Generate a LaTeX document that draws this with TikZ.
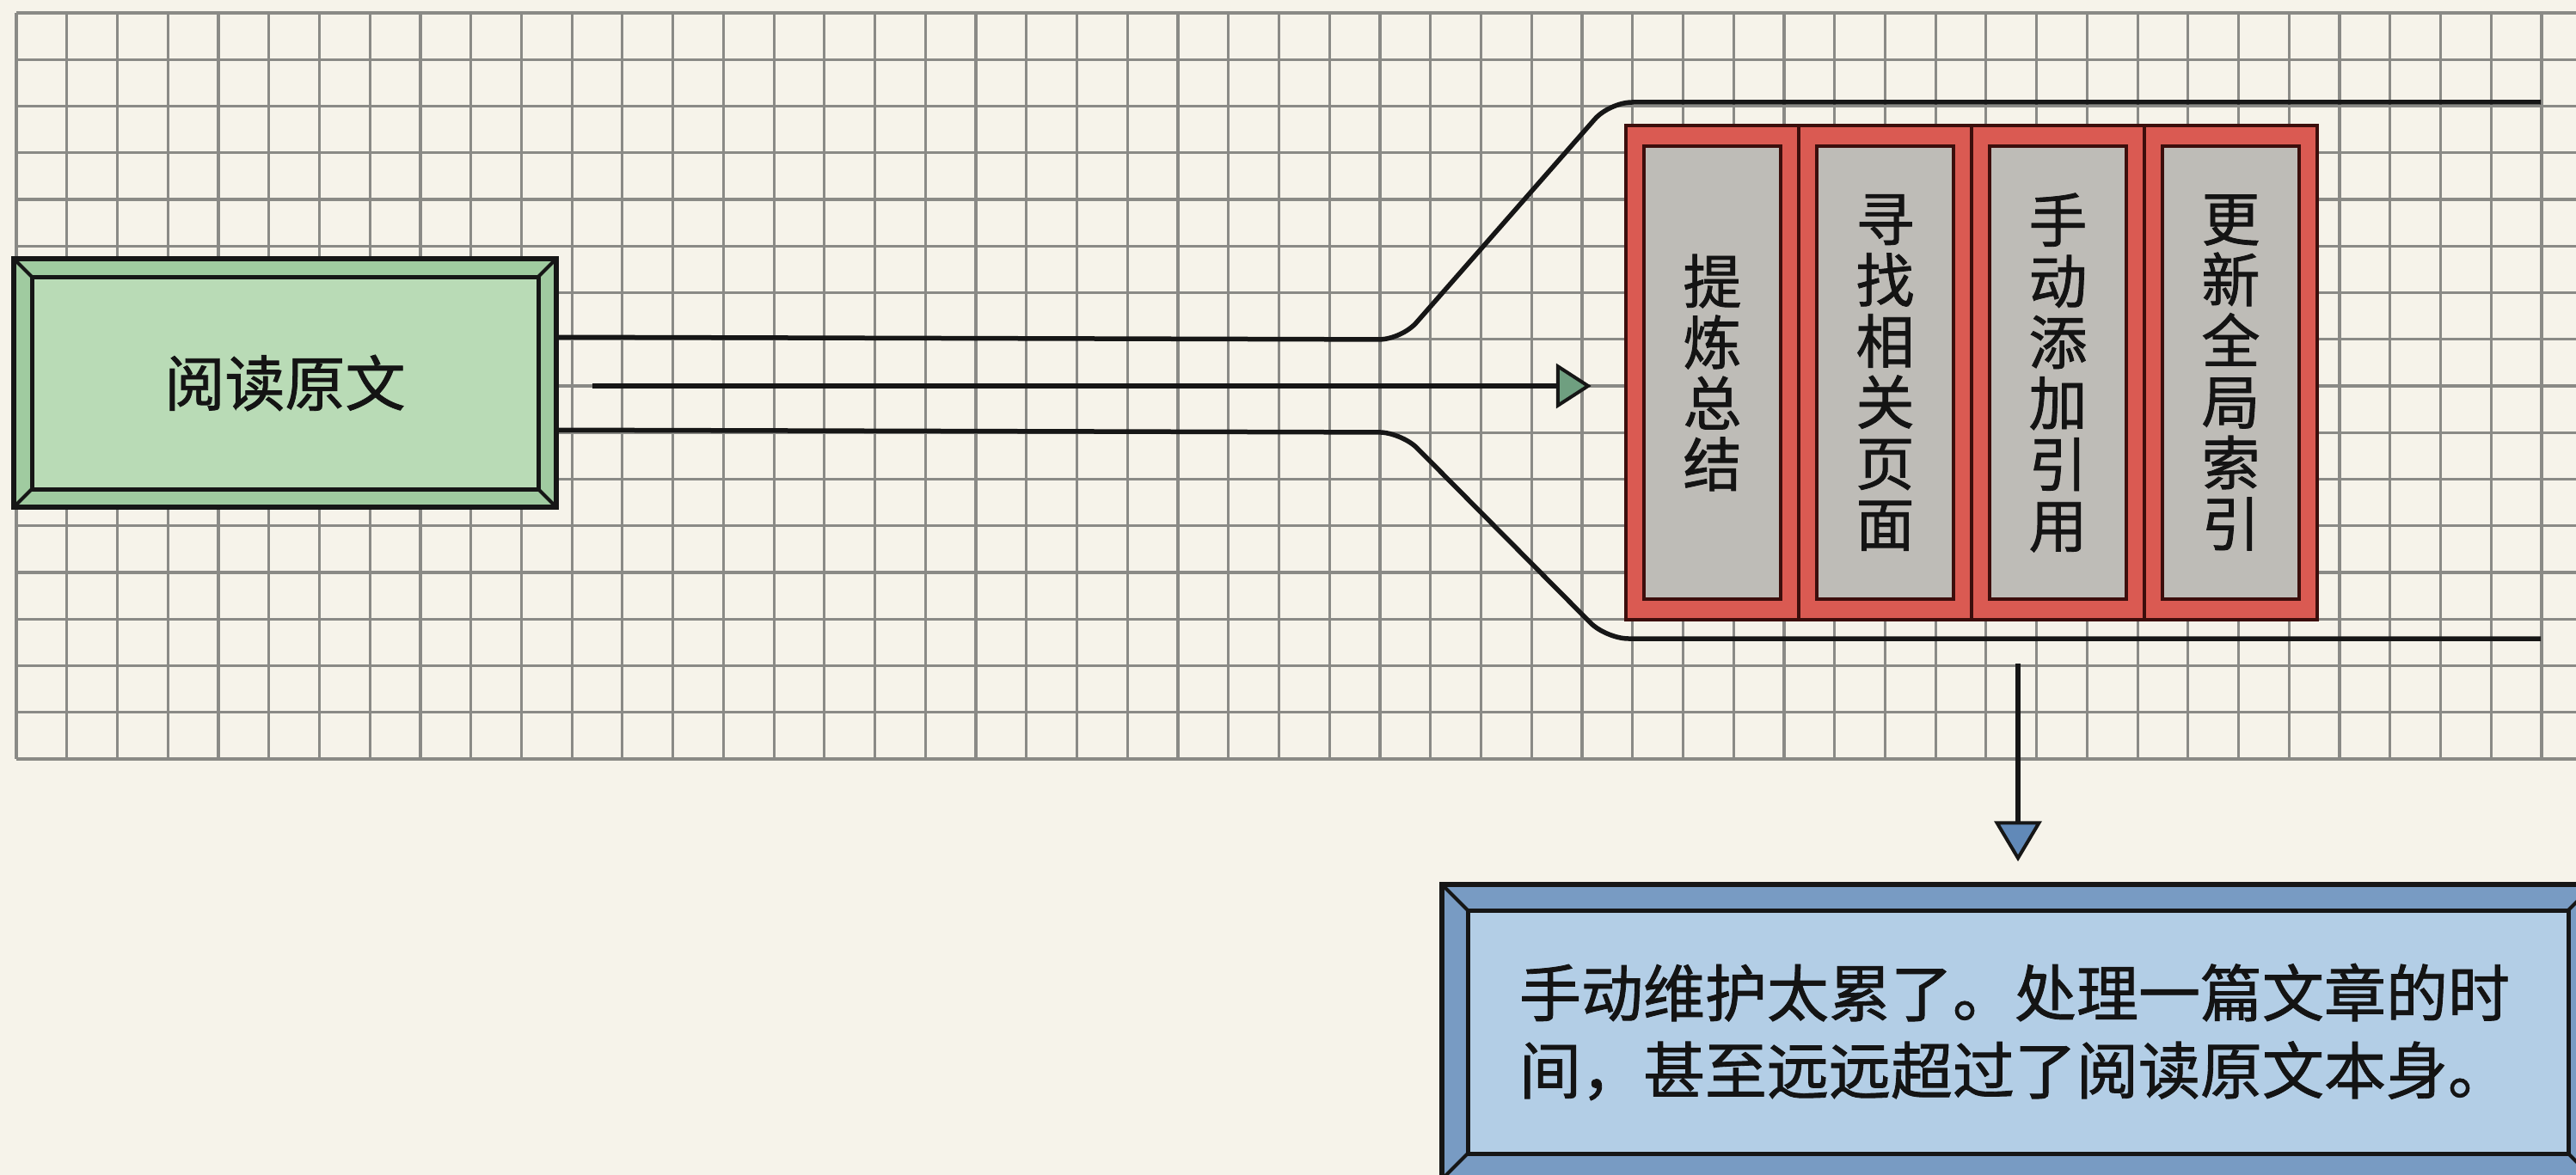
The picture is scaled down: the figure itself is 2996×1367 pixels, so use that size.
\documentclass[tikz,border=0pt]{standalone}
\usepackage{fontspec}
\newfontfamily\cjk[FakeBold=1.2]{Noto Sans CJK SC}
\usetikzlibrary{calc,arrows.meta}
\definecolor{paper}{HTML}{F6F3EA}
\definecolor{gridc}{HTML}{8A8A86}
\definecolor{edge}{HTML}{161616}
\definecolor{greenbev}{HTML}{A0CBA0}
\definecolor{greenin}{HTML}{B9DBB6}
\definecolor{bluebev}{HTML}{789BC3}
\definecolor{bluein}{HTML}{B3CEE6}
\definecolor{redc}{HTML}{DA5A52}
\definecolor{redline}{HTML}{3C0E0C}
\definecolor{grayin}{HTML}{BEBCB7}
\definecolor{arrgreen}{HTML}{6F9F80}
\definecolor{arrblue}{HTML}{6189B8}
\definecolor{ink}{HTML}{141414}
\tikzset{
  gridline/.style={gridc, line width=3.2pt},
  busline/.style={edge, line width=5.5pt, rounded corners=26pt},
  flowarrow/.style={edge, line width=5.5pt},
  bevelbox/.style n args={3}{rectangle, draw=edge, line width=5.5pt, fill=#1, inner sep=0pt,
    text=ink,
    path picture={
      \path (path picture bounding box.north west) coordinate (ppA)
            (path picture bounding box.south east) coordinate (ppB);
      \draw[fill=#2, draw=edge, line width=5pt] ($(ppA)+(#3,#3)$) rectangle ($(ppB)+(-#3,-#3)$);
      \draw[edge, line width=4pt] (ppA) -- ++(#3,#3);
      \draw[edge, line width=4pt] (ppB) -- ++(-#3,-#3);
      \draw[edge, line width=4pt] (ppA -| ppB) -- ++(-#3,#3);
      \draw[edge, line width=4pt] (ppA |- ppB) -- ++(#3,-#3);
    }},
  colbox/.style={rectangle, draw=redline, line width=4.5pt, fill=redc, inner sep=0pt,
    minimum width=201pt, minimum height=575pt, align=center, text=ink,
    font=\cjk\fontsize{68}{71}\selectfont,
    path picture={
      \path (path picture bounding box.north west) coordinate (ppA)
            (path picture bounding box.south east) coordinate (ppB);
      \draw[fill=grayin, draw=redline, line width=4.5pt] ($(ppA)+(21,24)$) rectangle ($(ppB)+(-21,-24)$);
    }},
}
\begin{document}
\begin{tikzpicture}[x=1pt,y=-1pt]
\useasboundingbox (0,0) rectangle (2996,1367);
\clip (0,0) rectangle (2996,1367);
\fill[paper] (0,0) rectangle (2996,1367);
% grid
\foreach \i in {0,...,50} \draw[gridline] ({19+58.74*\i},15) -- ({19+58.74*\i},883);
\foreach \j in {0,...,16} \draw[gridline] (19,{15+54.25*\j}) -- (3000,{15+54.25*\j});

% nodes
\node[bevelbox={greenbev}{greenin}{21}, minimum width=631pt, minimum height=289pt,
      font=\cjk\fontsize{70}{84}\selectfont] (read) at (331.5,445.5) {阅读原文};

\node[colbox] (c1) at (1991.5,433.5) {提\\炼\\总\\结};
\node[colbox] (c2) at (2192.5,433.5) {寻\\找\\相\\关\\页\\面};
\node[colbox] (c3) at (2393.5,433.5) {手\\动\\添\\加\\引\\用};
\node[colbox] (c4) at (2594.5,433.5) {更\\新\\全\\局\\索\\引};

\node[bevelbox={bluebev}{bluein}{30}, minimum width=1340pt, minimum height=343pt,
      text width=1160pt, align=left,
      font=\cjk\fontsize{72}{90}\selectfont] (warn) at (2347,1200.5)
      {手动维护太累了。处理一篇文章的时\\间，甚至远远超过了阅读原文本身。};

% bus lines
\coordinate (ua) at ($(read.north east)+(0,94)$);
\coordinate (ub) at (1630,395);
\coordinate (uc) at (1872,119);
\coordinate (ud) at (2955,119);
\coordinate (la) at ($(read.north east)+(0,202)$);
\coordinate (lb) at (1630,503);
\coordinate (lc) at (1868,743);
\coordinate (ld) at (2955,743);
\draw[busline] (ua) -- (ub) -- (uc) -- (ud);
\draw[busline] (la) -- (lb) -- (lc) -- (ld);

% arrows
\draw[flowarrow, -{Triangle[length=41pt, width=52pt, fill=arrgreen, line width=4pt]},
      shorten <=39pt, shorten >=38pt] ($(read.east)+(0,3.5)$) -- ($(read.east -| c1.west)+(0,3.5)$);
\coordinate (drop) at (2347,743);
\draw[flowarrow, -{Triangle[length=47pt, width=55pt, fill=arrblue, line width=4pt]},
      shorten <=29pt, shorten >=24pt] (drop) -- (warn.north);
\end{tikzpicture}
\end{document}
